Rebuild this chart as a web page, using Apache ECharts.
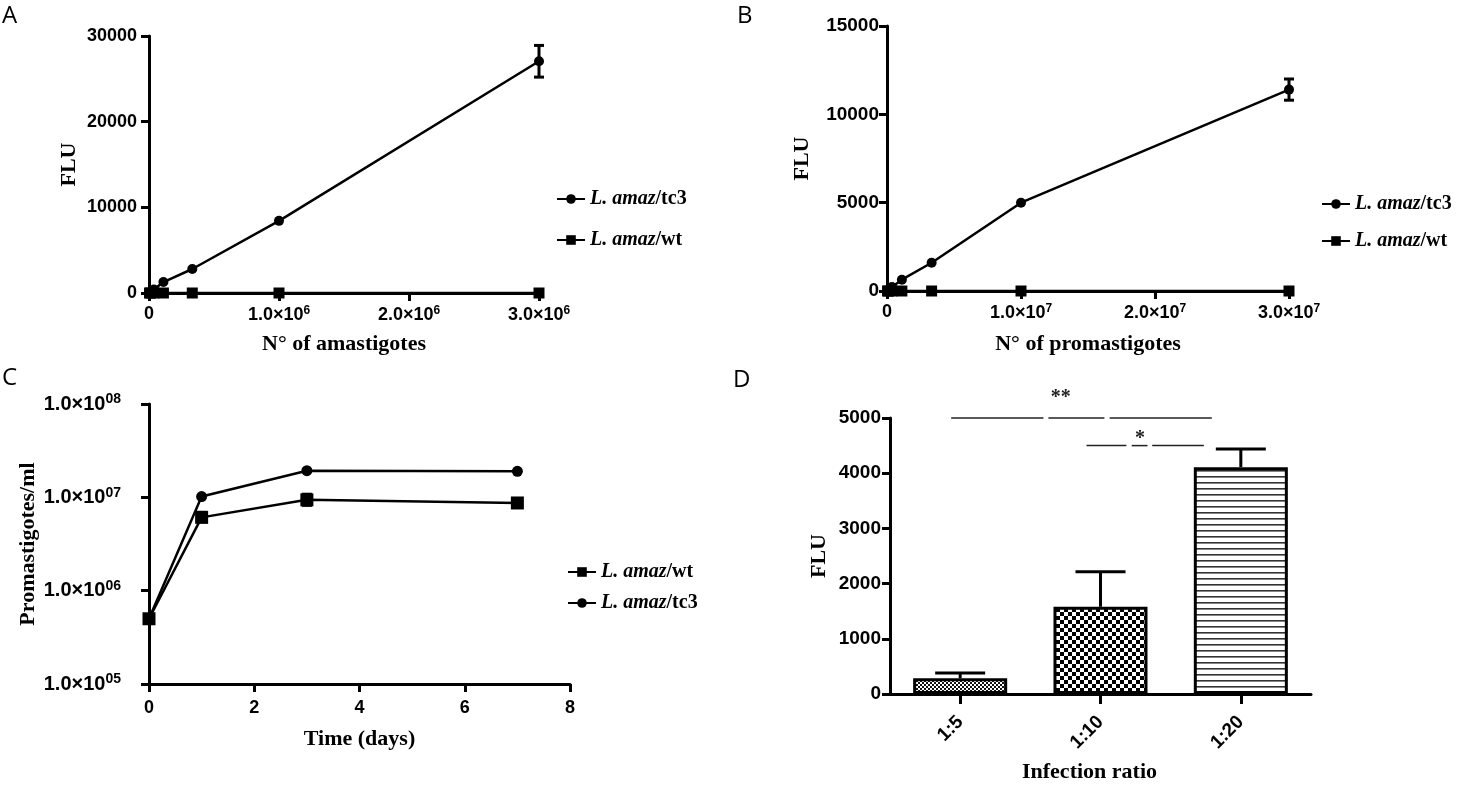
<!DOCTYPE html>
<html>
<head>
<meta charset="utf-8">
<script src="https://cdn.jsdelivr.net/npm/echarts@6/dist/echarts.min.js"></script>
<style>
html,body{margin:0;padding:0;background:#fff;}
#main{width:1464px;height:794px;}
</style>
</head>
<body>
<div id="main"></div>
<script>
// ---------- DATA ----------
// Panel A: FLU vs number of amastigotes
const aX = [4100, 12300, 37000, 111000, 333000, 1000000, 3000000];
const aTc3 = [40, 130, 400, 1280, 2800, 8420, 27050];
const aWt = [0, 0, 0, 0, 0, 0, 0];
const aErr = [[3000000, 25200, 28900]];
const aXTicks = ['0', '1.0×10^6', '2.0×10^6', '3.0×10^6'];
const aYTicks = ['0', '10000', '20000', '30000'];

// Panel B: FLU vs number of promastigotes
const bX = [41000, 123000, 370000, 1110000, 3330000, 10000000, 30000000];
const bTc3 = [20, 70, 220, 640, 1600, 5000, 11400];
const bWt = [0, 0, 0, 0, 0, 0, 0];
const bErr = [[30000000, 10800, 12000]];
const bXTicks = ['0', '1.0×10^7', '2.0×10^7', '3.0×10^7'];
const bYTicks = ['0', '5000', '10000', '15000'];

// Panel C: growth curve
const cDays = [0, 1, 3, 7];
const cWt = [500000, 6100000, 9400000, 8700000];
const cTc3 = [500000, 10200000, 19300000, 19000000];
const cWtErr = [[1, 5500000, 6900000], [3, 8200000, 10800000], [7, 8000000, 9500000]];
const cXTicks = ['0', '2', '4', '6', '8'];
const cYTicks = ['1.0×10^05', '1.0×10^06', '1.0×10^07', '1.0×10^08'];

// Panel D: infection ratio
const dCats = ['1:5', '1:10', '1:20'];
const dMean = [285, 1580, 4110];
const dHigh = [380, 2215, 4440];
const dYTicks = ['0', '1000', '2000', '3000', '4000', '5000'];
const dSig = [[0, 2, 5000, '**'], [1, 2, 4500, '*']];

const nameTc3 = 'L. amaz/tc3';
const nameWt = 'L. amaz/wt';

// ---------- STYLE HELPERS ----------
const SANS = "'Liberation Sans', Arial, sans-serif";
const SERIF = "'Liberation Serif', 'Times New Roman', serif";
function tickFont(size) { return {fontFamily: SANS, fontWeight: 'bold', fontSize: size, color: '#000'}; }
const nameFont = {fontFamily: SERIF, fontWeight: 'bold', fontSize: 22, color: '#000'};
function supRich(size) { return {s: {fontFamily: SANS, fontWeight: 'bold', fontSize: size, color: '#000', padding: [0, 0, 9, 0]}}; }
function supFmt(list) {
  return function (v, i) {
    const s = list[i] !== undefined ? list[i] : '';
    const p = s.split('^');
    return p.length > 1 ? p[0] + '{s|' + p[1] + '}' : s;
  };
}
const axLine = {show: true, onZero: false, lineStyle: {color: '#000', width: 3}};
const axTick = {show: true, length: 8, lineStyle: {color: '#000', width: 3}};
function valueAxis(extra) {
  return Object.assign({
    type: 'value', axisLine: axLine, axisTick: axTick, splitLine: {show: false},
    nameLocation: 'middle', nameTextStyle: nameFont
  }, extra);
}
function lbl(size, margin, ticks, supSize) {
  const o = Object.assign(tickFont(size), {margin: margin, formatter: supFmt(ticks)});
  if (supSize) o.rich = supRich(supSize);
  return o;
}

function makePattern(kind) {
  const c = document.createElement('canvas');
  const ctx = c.getContext('2d');
  if (kind === 'fine') {
    c.width = 4; c.height = 4;
    ctx.fillStyle = '#fff'; ctx.fillRect(0, 0, 4, 4);
    ctx.fillStyle = '#111'; ctx.fillRect(0, 0, 2, 2); ctx.fillRect(2, 2, 2, 2);
  } else if (kind === 'checker') {
    c.width = 8; c.height = 8;
    ctx.fillStyle = '#fff'; ctx.fillRect(0, 0, 8, 8);
    ctx.fillStyle = '#000'; ctx.fillRect(0, 0, 4, 4); ctx.fillRect(4, 4, 4, 4);
  } else {
    c.width = 6; c.height = 6;
    ctx.fillStyle = '#fff'; ctx.fillRect(0, 0, 6, 6);
    ctx.fillStyle = '#333'; ctx.fillRect(0, 2, 6, 1.6);
  }
  return {image: c, repeat: 'repeat'};
}
const patterns = [makePattern('fine'), makePattern('checker'), makePattern('lines')];

function errRender(capW, both) {
  return function (params, api) {
    const x = api.value(0), lo = api.value(1), hi = api.value(2);
    const p1 = api.coord([x, lo]);
    const p2 = api.coord([x, hi]);
    const st = {stroke: '#000', lineWidth: 3};
    const ch = [
      {type: 'line', shape: {x1: p1[0], y1: p1[1], x2: p2[0], y2: p2[1]}, style: st},
      {type: 'line', shape: {x1: p2[0] - capW / 2, y1: p2[1], x2: p2[0] + capW / 2, y2: p2[1]}, style: st}
    ];
    if (both) ch.push({type: 'line', shape: {x1: p1[0] - capW / 2, y1: p1[1], x2: p1[0] + capW / 2, y2: p1[1]}, style: st});
    return {type: 'group', children: ch};
  };
}

function sigRender(params, api) {
  const a = api.value(0), b = api.value(1), y = api.value(2);
  const label = dSig[params.dataIndex][3];
  const pa = api.coord([a, y]);
  const pb = api.coord([b, y]);
  const single = label.length === 1;
  const x1 = pa[0] + (single ? -14 : -9);
  const x2 = pb[0] + (single ? -37 : -29);
  const w = x2 - x1;
  const gaps = single ? [[0.34, 0.385], [0.52, 0.56]] : [[0.354, 0.373], [0.588, 0.608]];
  const segs = [[0, gaps[0][0]], [gaps[0][1], gaps[1][0]], [gaps[1][1], 1]];
  const st = {stroke: '#222', lineWidth: 1.5};
  const ch = segs.map(s => ({type: 'line', shape: {x1: x1 + s[0] * w, y1: pa[1], x2: x1 + s[1] * w, y2: pa[1]}, style: st}));
  ch.push({
    type: 'text',
    style: {
      text: label, x: x1 + w * (single ? 0.455 : 0.42), y: pa[1] + (single ? 3 : -10),
      align: 'center', verticalAlign: 'bottom',
      font: "bold 20px 'Liberation Serif', serif", fill: '#222'
    }
  });
  return {type: 'group', children: ch};
}

const legendText = {
  color: '#000',
  rich: {
    i: {fontFamily: SERIF, fontStyle: 'italic', fontWeight: 'bold', fontSize: 20, color: '#000'},
    n: {fontFamily: SERIF, fontWeight: 'bold', fontSize: 20, color: '#000'}
  }
};
function legendFmt(name) {
  const k = name.indexOf('/');
  return '{i|' + name.slice(0, k) + '}{n|' + name.slice(k) + '}';
}
function legend(left, top, gap, names) {
  return {
    left: left, top: top, orient: 'vertical', itemGap: gap, itemWidth: 28, itemHeight: 12,
    data: names, formatter: legendFmt, textStyle: legendText, selectedMode: false
  };
}

const lineSt = {color: '#000', width: 2.5};
function lineSeries(name, xi, yi, data, sym, size) {
  return {
    name: name, type: 'line', xAxisIndex: xi, yAxisIndex: yi, data: data,
    symbol: sym, symbolSize: size, showSymbol: true,
    lineStyle: lineSt, itemStyle: {color: '#000'}, z: 5
  };
}

const letterFont = "24px 'Open Sans', sans-serif";
const option = {
  animation: false,
  backgroundColor: '#fff',
  graphic: [
    {type: 'text', left: 2, top: 4, style: {text: 'A', font: letterFont, fill: '#000'}},
    {type: 'text', left: 737, top: 4, style: {text: 'B', font: letterFont, fill: '#000'}},
    {type: 'text', left: 2, top: 366, style: {text: 'C', font: letterFont, fill: '#000'}},
    {type: 'text', left: 733, top: 368, style: {text: 'D', font: letterFont, fill: '#000'}}
  ],
  grid: [
    {left: 149, top: 36, width: 390, height: 257},
    {left: 887, top: 26, width: 402, height: 265},
    {left: 149, top: 404, width: 421, height: 280},
    {left: 890, top: 418, width: 421, height: 276}
  ],
  xAxis: [
    valueAxis({gridIndex: 0, min: 0, max: 3000000, interval: 1000000, name: 'N° of amastigotes', nameGap: 40,
      axisLabel: lbl(18, 12, aXTicks, 12)}),
    valueAxis({gridIndex: 1, min: 0, max: 30000000, interval: 10000000, name: 'N° of promastigotes', nameGap: 42,
      axisLabel: lbl(18, 12, bXTicks, 12)}),
    valueAxis({gridIndex: 2, min: 0, max: 8, interval: 2, name: 'Time (days)', nameGap: 44,
      axisLabel: lbl(18, 15, cXTicks, 0)}),
    {
      type: 'category', gridIndex: 3, data: dCats, boundaryGap: true,
      axisLine: axLine, axisTick: Object.assign({}, axTick, {alignWithLabel: true, length: 10}),
      axisLabel: Object.assign(tickFont(19), {rotate: 45, margin: 25}),
      name: 'Infection ratio', nameLocation: 'middle', nameGap: 67,
      nameTextStyle: Object.assign({}, nameFont, {padding: [0, 22, 0, 0]})
    }
  ],
  yAxis: [
    valueAxis({gridIndex: 0, min: 0, max: 30000, interval: 10000, name: 'FLU', nameGap: 69,
      axisLabel: lbl(18, 12, aYTicks, 0)}),
    valueAxis({gridIndex: 1, min: 0, max: 15000, interval: 5000, name: 'FLU', nameGap: 74,
      axisLabel: lbl(19, 8, bYTicks, 0)}),
    {
      type: 'log', logBase: 10, gridIndex: 2, min: 100000, max: 100000000,
      axisLine: axLine, axisTick: axTick, splitLine: {show: false}, minorTick: {show: false},
      axisLabel: lbl(20, 28, cYTicks, 14),
      name: 'Promastigotes/ml', nameLocation: 'middle', nameGap: 100, nameTextStyle: nameFont
    },
    valueAxis({gridIndex: 3, min: 0, max: 5000, interval: 1000, name: 'FLU', nameGap: 60,
      axisLabel: lbl(19, 9, dYTicks, 0)})
  ],
  legend: [
    legend(551, 184, 21, [nameTc3, nameWt]),
    legend(1316, 189, 17, [nameTc3, nameWt]),
    legend(562, 557, 11, [nameWt, nameTc3])
  ],
  series: [
    // Panel A
    lineSeries(nameWt, 0, 0, aX.map((x, i) => [x, aWt[i]]), 'rect', 11),
    lineSeries(nameTc3, 0, 0, aX.map((x, i) => [x, aTc3[i]]), 'circle', 10),
    {type: 'custom', xAxisIndex: 0, yAxisIndex: 0, data: aErr, renderItem: errRender(10, true), z: 6},
    // Panel B
    lineSeries(nameWt, 1, 1, bX.map((x, i) => [x, bWt[i]]), 'rect', 11),
    lineSeries(nameTc3, 1, 1, bX.map((x, i) => [x, bTc3[i]]), 'circle', 10),
    {type: 'custom', xAxisIndex: 1, yAxisIndex: 1, data: bErr, renderItem: errRender(10, true), z: 6},
    // Panel C
    lineSeries(nameWt, 2, 2, cDays.map((x, i) => [x, cWt[i]]), 'rect', 13),
    lineSeries(nameTc3, 2, 2, cDays.map((x, i) => [x, cTc3[i]]), 'circle', 11),
    {type: 'custom', xAxisIndex: 2, yAxisIndex: 2, data: cWtErr, renderItem: errRender(10, true), z: 6},
    // Panel D
    {
      type: 'bar', xAxisIndex: 3, yAxisIndex: 3, barWidth: '67%',
      data: dMean.map((v, i) => ({value: v, itemStyle: {color: patterns[i], borderColor: '#000', borderWidth: 3}})),
      z: 3
    },
    {type: 'custom', xAxisIndex: 3, yAxisIndex: 3, data: dCats.map((c, i) => [i, dMean[i], dHigh[i]]), renderItem: errRender(50, false), z: 2},
    {type: 'custom', xAxisIndex: 3, yAxisIndex: 3, data: dSig.map(s => [s[0], s[1], s[2]]), renderItem: sigRender, z: 4}
  ]
};

const chart = echarts.init(document.getElementById('main'), null, {renderer: 'canvas'});
chart.setOption(option);
</script>
</body>
</html>
